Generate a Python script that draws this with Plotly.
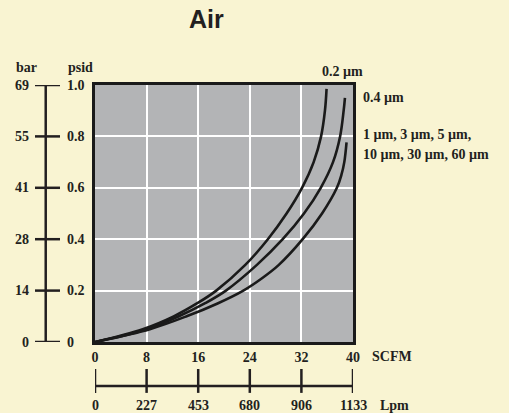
import plotly.graph_objects as go

# ---- data ----
scfm_ticks = [0, 8, 16, 24, 32, 40]
lpm_labels = ["0", "227", "453", "680", "906", "1133"]
psid_ticks = [0, 0.2, 0.4, 0.6, 0.8, 1.0]
psid_labels = ["0", "0.2", "0.4", "0.6", "0.8", "1.0"]
bar_labels = ["0", "14", "28", "41", "55", "69"]

# 0.2 µm
c1_x = [0, 7.4, 12.2, 15.8, 18.8, 23.3, 26.8, 29.7, 32.1, 33.9, 35.05, 35.65, 35.9]
c1_y = [0, 0.05, 0.10, 0.15, 0.20, 0.30, 0.40, 0.50, 0.60, 0.70, 0.80, 0.90, 0.985]
# 0.4 µm
c2_x = [0, 8.0, 13.0, 17.0, 20.3, 25.1, 29.1, 32.4, 35.0, 36.9, 38.0, 38.55, 38.75]
c2_y = [0, 0.05, 0.10, 0.15, 0.20, 0.30, 0.40, 0.50, 0.60, 0.70, 0.80, 0.90, 0.95]
# 1 - 60 µm
c3_x = [0, 8.5, 14.2, 19.0, 23.0, 26.0, 28.5, 32.2, 35.2, 37.5, 38.2, 38.65, 39.0]
c3_y = [0, 0.05, 0.10, 0.15, 0.20, 0.25, 0.30, 0.40, 0.50, 0.60, 0.65, 0.70, 0.777]

curve_names = ["0.2 µm", "0.4 µm", "1 µm, 3 µm, 5 µm, 10 µm, 30 µm, 60 µm"]

INK = "#231f20"
SERIF = "Liberation Serif"

fig = go.Figure()
for xs, ys, nm in [(c1_x, c1_y, curve_names[0]), (c2_x, c2_y, curve_names[1]), (c3_x, c3_y, curve_names[2])]:
    fig.add_trace(go.Scatter(x=xs, y=ys, mode="lines", name=nm,
                             line=dict(color="#1a1a1a", width=2.6, shape="spline", smoothing=1.0),
                             showlegend=False, hoverinfo="skip"))

fig.update_layout(
    width=509, height=413,
    margin=dict(l=95, r=156, t=85, b=71),
    paper_bgcolor="#f9f4d2",
    plot_bgcolor="#b3b4b6",
    showlegend=False,
)
fig.update_xaxes(range=[0, 40], tickvals=scfm_ticks, ticktext=[str(v) for v in scfm_ticks],
                 showgrid=True, gridcolor="white", gridwidth=2.2,
                 showline=True, linecolor="#1a1a1a", linewidth=2.5, mirror=True,
                 zeroline=False, ticks="",
                 tickfont=dict(family=SERIF, size=14, color=INK, weight="bold"))
fig.update_yaxes(range=[0, 1], tickvals=psid_ticks, showticklabels=False,
                 showgrid=True, gridcolor="white", gridwidth=2.2,
                 showline=True, linecolor="#1a1a1a", linewidth=2.5, mirror=True,
                 zeroline=False, ticks="")

shapes = []
anns = []
bold = dict(family=SERIF, size=14, color=INK, weight="bold")
# left bar/psid axis
shapes.append(dict(type="line", xref="paper", yref="y", x0=-0.191, x1=-0.191, y0=0, y1=1,
                   line=dict(color=INK, width=2.5)))
for v, pl, bl in zip(psid_ticks, psid_labels, bar_labels):
    shapes.append(dict(type="line", xref="paper", yref="y", x0=-0.2326, x1=-0.1357, y0=v, y1=v,
                       line=dict(color=INK, width=2.5)))
    anns.append(dict(xref="paper", yref="y", x=-0.118, y=v, text=pl, showarrow=False,
                     xanchor="left", yanchor="middle", font=bold))
    anns.append(dict(xref="paper", yref="y", x=-0.248, y=v, text=bl, showarrow=False,
                     xanchor="right", yanchor="middle", font=bold))
anns.append(dict(xref="paper", yref="paper", x=-0.267, y=1.070, text="bar", showarrow=False,
                 xanchor="center", yanchor="middle", font=bold))
anns.append(dict(xref="paper", yref="paper", x=-0.058, y=1.070, text="psid", showarrow=False,
                 xanchor="center", yanchor="middle", font=bold))

# bottom Lpm axis
shapes.append(dict(type="line", xref="x", yref="paper", x0=scfm_ticks[0], x1=scfm_ticks[-1], y0=-0.171, y1=-0.171,
                   line=dict(color=INK, width=2.5)))
for v, lab in zip(scfm_ticks, lpm_labels):
    shapes.append(dict(type="line", xref="x", yref="paper", x0=v, x1=v, y0=-0.105, y1=-0.198,
                       line=dict(color=INK, width=2.5)))
    anns.append(dict(xref="x", yref="paper", x=v, y=-0.249, text=lab, showarrow=False,
                     xanchor="center", yanchor="middle", font=bold))
anns.append(dict(xref="paper", yref="paper", x=1.097, y=-0.249, text="Lpm", showarrow=False,
                 xanchor="left", yanchor="middle", font=bold))
anns.append(dict(xref="paper", yref="paper", x=1.066, y=-0.058, text="SCFM", showarrow=False,
                 xanchor="left", yanchor="middle", font=bold))

# curve labels
anns.append(dict(xref="paper", yref="paper", x=0.872, y=1.054, text="0.2 µm", showarrow=False,
                 xanchor="left", yanchor="middle", font=bold))
anns.append(dict(xref="paper", yref="paper", x=1.031, y=0.953, text="0.4 µm", showarrow=False,
                 xanchor="left", yanchor="middle", font=bold))
anns.append(dict(xref="paper", yref="paper", x=1.031, y=0.809, text="1 µm, 3 µm, 5 µm,", showarrow=False,
                 xanchor="left", yanchor="middle", font=bold))
anns.append(dict(xref="paper", yref="paper", x=1.031, y=0.728, text="10 µm, 30 µm, 60 µm", showarrow=False,
                 xanchor="left", yanchor="middle", font=bold))

# title
anns.append(dict(xref="paper", yref="paper", x=0.434, y=1.257, text="Air", showarrow=False,
                 xanchor="center", yanchor="middle",
                 font=dict(family="Liberation Sans", size=25, color=INK, weight="bold")))

fig.update_layout(shapes=shapes, annotations=anns)
fig.write_html("out.html", config={"displayModeBar": False},
               post_script="document.body.style.margin='0px';document.body.style.overflow='hidden';")
